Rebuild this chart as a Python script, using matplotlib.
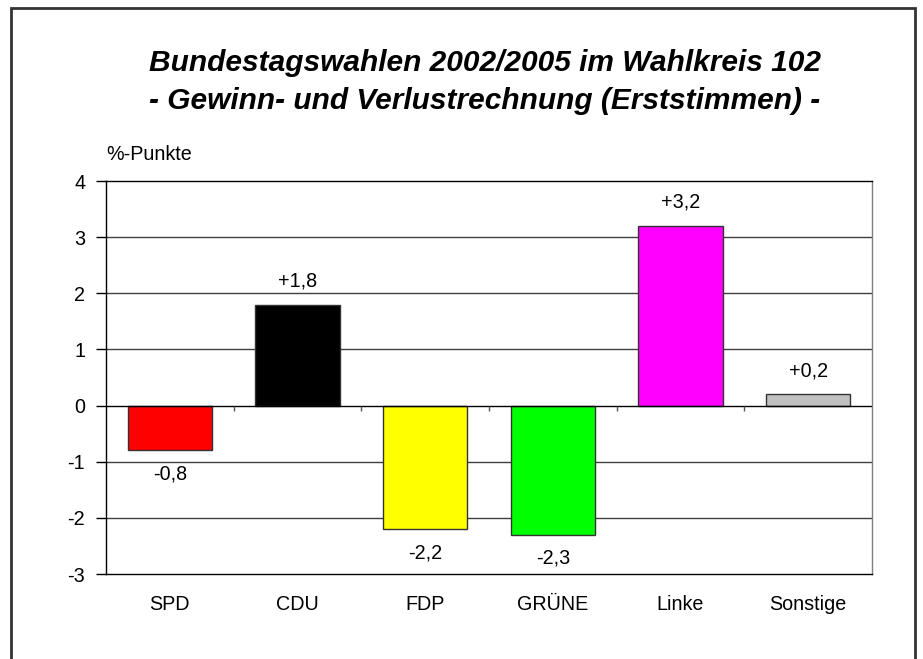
# -*- coding:utf-8 -*-
import numpy as np
import matplotlib
matplotlib.use("Agg")
import matplotlib.pyplot as plt
from matplotlib.patches import Rectangle

plt.rcParams['font.family'] = ['Liberation Sans', 'DejaVu Sans']

parteien = ["SPD", "CDU", "FDP", "GRÜNE", "Linke", "Sonstige"]
werte = [-0.8, 1.8, -2.2, -2.3, 3.2, 0.2]
farben = ["#ff0000", "#000000", "#ffff00", "#00ff00", "#ff00ff", "#c0c0c0"]
labels = ["-0,8", "+1,8", "-2,2", "-2,3", "+3,2", "+0,2"]
yticks = [-3, -2, -1, 0, 1, 2, 3, 4]

fs = 14.2

fig = plt.figure(figsize=(9.23, 6.59), dpi=100)
ax = fig.add_axes([106/923, 1-574/659, (872-106)/923, (574-181)/659])

x = np.arange(len(parteien))
ax.bar(x, werte, width=0.66, color=farben, edgecolor="#333333", linewidth=1, zorder=3)

for xi, v, t in zip(x, werte, labels):
    off = 17 if v >= 0 else -17
    ax.annotate(t, (xi, v), xytext=(0, off), textcoords="offset points",
                ha="center", va="center", fontsize=fs)

ax.set_xlim(-0.5, len(parteien) - 0.5)
ax.set_ylim(-3, 4)
ax.set_yticks(yticks)
ax.set_yticklabels([str(t) for t in yticks], fontsize=fs)
ax.set_xticks(x)
ax.set_xticklabels(parteien, fontsize=fs)
ax.tick_params(axis="x", length=0, pad=15)
ax.tick_params(axis="y", length=7, width=1, pad=8, direction="out")

for t in [-2, -1, 1, 2, 3]:
    ax.axhline(t, color="#404040", linewidth=1, zorder=1)
ax.axhline(0, color="black", linewidth=1, zorder=4)
ax.vlines(np.arange(len(parteien) - 1) + 0.5, -0.09, 0, color="#555555", linewidth=1, zorder=4)

ax.spines["top"].set_color("black")
ax.spines["left"].set_color("black")
ax.spines["bottom"].set_color("black")
ax.spines["right"].set_color("#808080")
for s in ax.spines.values():
    s.set_linewidth(1)

fig.text(106/923, 1-155/659, "%-Punkte", fontsize=fs, ha="left", va="center")
fig.text(485/923, 1-63/659, "Bundestagswahlen 2002/2005 im Wahlkreis 102",
         fontsize=21.5, fontweight="bold", fontstyle="italic", ha="center", va="center")
fig.text(485/923, 1-101/659, "- Gewinn- und Verlustrechnung (Erststimmen) -",
         fontsize=21.5, fontweight="bold", fontstyle="italic", ha="center", va="center")

# Rahmen
fig.patches.append(Rectangle((11/923, -0.05), (915-11)/923, 1.05-8/659,
                             transform=fig.transFigure, fill=False,
                             edgecolor="#333333", linewidth=2))

plt.savefig("out.png", dpi=100)
